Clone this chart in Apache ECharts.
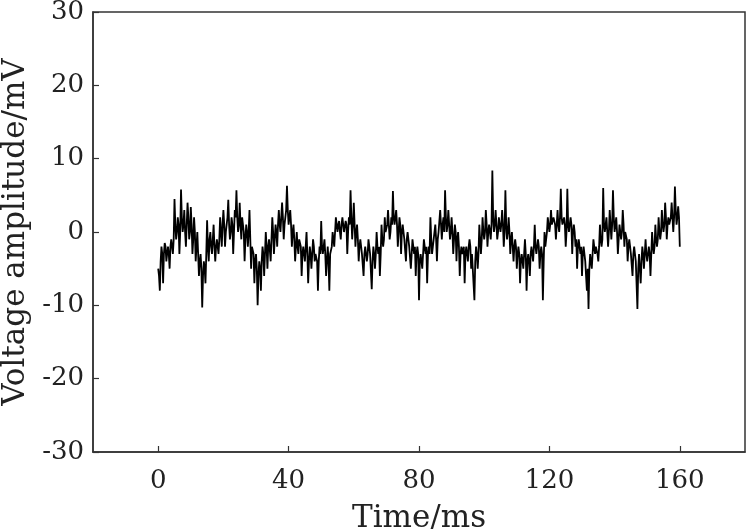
<!DOCTYPE html>
<html>
<head>
<meta charset="utf-8">
<script src="https://cdn.jsdelivr.net/npm/echarts@6/dist/echarts.min.js"></script>
<style>
html,body{margin:0;padding:0;background:#fff;}
#chart{width:750px;height:529px;}
</style>
</head>
<body>
<div id="chart"></div>
<script>
// Sampling interval of the recorded signal (ms)
var sampleInterval = 0.25;
// Voltage amplitude (mV) at the even samples (t = 0, 0.5, 1.0, ... ms), read in 10 ms chunks
var voltage = [].concat(
  [-5,-8,-2,-7,-1.5,-4,-2,-5,-1,-3,4.5,-1,2,-3,5.8,0,3,-2,4,-1],
  [3.4,-3,2,-4,0,-6,-3,-10.3,-4,-7,1.6,-4,0,-3,1,-4,-1,-3,2,-2],
  [3,-2,1,4.4,-1,2,-3,3,5.7,0,4,-1,2,-4,1,-2,3,-5,-2,-7],
  [-3,-10,-4,-8,-2,-6,0,-5,-1,-4,2,-3,1,-2,3,0,4,-1,2,6.3],
  [1,3,-2,1,-4,0,-3,-1,-6,-2,-4,0,-7,-2,-5,-1,-4,-3,-8,-2],
  [1.5,-3,-1,-6,-2,-8,-3,0,-2,2,0,1.5,-1,2,0,1.5,-3,2,5.7,-1],
  [4,-2,1,-4,-1,-3,-6,-2,-4,-1,-3,-7.8,-2,-5,0,-3,-6,1,-2,2],
  [0,3,-1,2,5.6,1,3,-2,2,-3,1,-1,-4,0,-2,-5,-1,-3,-6,-2],
  [-9.3,-3,-5,-1,-3,-7,-2,2,-3,-1,1,-4,0,3,-1,2,5.7,0,3,-1],
  [2,-3,1,-4,0,-6,-2,-3,-7,-2,-4,-1,-5,-3,-9.3,-2,-5,1,-3,2],
  [-1,3,-2,1,-1,8.4,0,3,-1,2,0,3,-2,5.7,-1,2,-3,0,-4,-1],
  [-5,-2,-7,-3,-5,-1,-8,-3,-6,-2,-4,1,-3,-1,-5,-2,-9.3,0,-1,2],
  [0,3,1,2,-1,3,0,5.9,1,2,-2,5.9,0,2,-3,1,-2,-5,-1,-3],
  [-6,-2,-4,-8,-10.5,-3,-5,-1,-3,-2,-4,1,-2,6,0,2,-2,3,-1,5.7],
  [0,2,-3,1,-1,3,-2,0,-4,-1,-3,-6,-2,-4,-10.5,-3,-7,-2,-5,-1],
  [-4,-2,-6,0,-3,1,-2,2,-1,3,0,4,-1,2,1,4,0,6.2,1,3.5,-2]
);
// Voltage amplitude (mV) at the odd samples (t = 0.25, 0.75, ... ms): the dark core band
var voltageMid = [].concat(
  [-6,-4,-3,-3,-2,-3,-3,-2,-2,-1,1,0,1,0,2,1,0,1,2,0],
  [1,-1,0,-2,-3,-4,-5,-6,-5,-3,-2,-1,-2,-1,-2,-2,-1,-1,0,1],
  [1,0,2,1,0,1,0,2,2,1,1,2,0,-1,0,0,-1,-2,-3,-4],
  [-5,-6,-5,-4,-3,-3,-2,-2,-1,-1,0,-1,0,1,1,2,2,1,3,3],
  [2,1,0,-1,-2,-2,-1,-2,-3,-2,-2,-3,-4,-3,-3,-2,-3,-4,-4,-3],
  [-2,-2,-3,-4,-4,-3,-2,-1,0,1,1,0,1,1,0,1,0,1,2,1],
  [1,0,-1,-2,-2,-3,-3,-2,-3,-2,-3,-4,-3,-3,-2,-2,-3,-1,-1,0],
  [1,1,0,1,2,2,1,0,1,0,0,-1,-1,-1,-2,-3,-2,-2,-3,-3],
  [-4,-4,-3,-2,-2,-3,-3,-1,-2,-1,-1,-1,0,1,1,0,2,1,1,0],
  [0,-1,0,-1,-2,-3,-3,-2,-3,-3,-2,-2,-3,-3,-4,-3,-3,-1,-1,0],
  [0,1,0,0,1,2,1,1,0,1,1,1,0,1,0,0,-1,-2,-2,-2],
  [-3,-3,-4,-4,-3,-3,-4,-4,-3,-3,-2,-2,-2,-2,-3,-3,-4,-2,0,1],
  [1,1,2,1,1,1,2,2,1,1,0,1,1,1,0,0,-1,-2,-2,-2],
  [-3,-3,-4,-5,-5,-4,-3,-2,-2,-3,-2,-1,-1,1,1,0,0,1,1,2],
  [1,0,-1,0,0,1,0,-1,-2,-2,-3,-3,-3,-4,-5,-5,-4,-3,-3,-3],
  [-3,-3,-3,-2,-2,-1,-1,0,0,1,1,2,1,1,2,2,2,3,2,2]
);
// Axis ticks / labels
var xTicks = [0, 40, 80, 120, 160];
var yTicks = [-30, -20, -10, 0, 10, 20, 30];
var xAxisTitle = 'Time/ms';
var yAxisTitle = 'Voltage amplitude/mV';

var points = [];
for (var i = 0; i < voltage.length; i++) {
  points.push([(2 * i) * sampleInterval, voltage[i]]);
  if (i < voltageMid.length) points.push([(2 * i + 1) * sampleInterval, voltageMid[i]]);
}

var fontFam = 'DejaVu Serif';
var chart = echarts.init(document.getElementById('chart'), null, {renderer: 'canvas'});
chart.setOption({
  animation: false,
  backgroundColor: '#fff',
  grid: {
    left: 93, right: 5, top: 12, bottom: 77,
    outerBoundsMode: 'none',
    show: true, borderColor: '#333', borderWidth: 1.5, containLabel: false
  },
  xAxis: {
    type: 'value', min: -20, max: 180, interval: 20,
    splitLine: {show: false},
    axisLine: {show: true, onZero: false, lineStyle: {color: '#333', width: 1.5}},
    axisTick: {show: true, inside: true, length: 6, customValues: xTicks, lineStyle: {color: '#333', width: 1.2}},
    axisLabel: {customValues: xTicks, fontFamily: fontFam, fontSize: 26, color: '#222', margin: 16},
    name: xAxisTitle, nameLocation: 'middle', nameGap: 51,
    nameTextStyle: {fontFamily: fontFam, fontSize: 31, color: '#222'}
  },
  yAxis: {
    type: 'value', min: -30, max: 30, interval: 10,
    splitLine: {show: false},
    axisLine: {show: true, onZero: false, lineStyle: {color: '#333', width: 1.5}},
    axisTick: {show: true, inside: true, length: 6, lineStyle: {color: '#333', width: 1.2}},
    axisLabel: {fontFamily: fontFam, fontSize: 26, color: '#222', margin: 9},
    name: yAxisTitle, nameLocation: 'middle', nameGap: 59,
    nameTextStyle: {fontFamily: fontFam, fontSize: 31, color: '#222'}
  },
  series: [{
    type: 'line', data: points, showSymbol: false, symbol: 'none',
    sampling: null, large: false, progressive: 0,
    lineStyle: {color: '#000', width: 1.8}
  }]
});
</script>
</body>
</html>
